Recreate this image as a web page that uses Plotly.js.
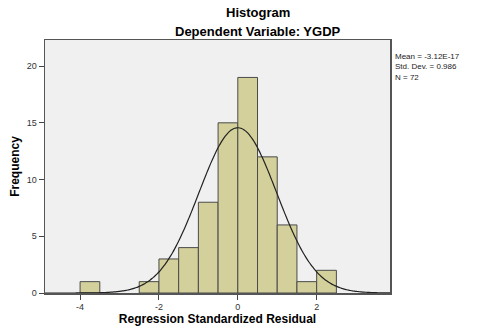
<!DOCTYPE html>
<html>
<head>
<meta charset="utf-8">
<script src="https://cdn.plot.ly/plotly-3.0.1.min.js"></script>
<style>html,body{margin:0;padding:0;background:#fff;}#chart{width:480px;height:330px;}</style>
</head>
<body>
<div id="chart"></div>
<script>
// Histogram bins (left edges) and counts
const binStart = [-4.0, -2.5, -2.0, -1.5, -1.0, -0.5, 0.0, 0.5, 1.0, 1.5, 2.0];
const counts   = [1, 1, 3, 4, 8, 15, 19, 12, 6, 1, 2];
const binWidth = 0.5;
// Summary statistics shown in the chart
const statMean = -3.12e-17;
const statSD = 0.986;
const statN = 72;
const xTicks = [-4, -2, 0, 2];
const yTicks = [0, 5, 10, 15, 20];

const xRange = [-4.89, 3.86];
const centers = binStart.map(b => b + binWidth / 2);

// Fitted normal curve from the displayed mean, SD and N
const cx = [], cy = [];
const steps = 200;
for (let i = 0; i <= steps; i++) {
  const x = xRange[0] + (xRange[1] - xRange[0]) * i / steps;
  const z = (x - statMean) / statSD;
  cx.push(x);
  cy.push(statN * binWidth * Math.exp(-0.5 * z * z) / (statSD * Math.sqrt(2 * Math.PI)));
}

const traces = [
  {type: 'bar', x: centers, y: counts, width: binWidth,
   marker: {color: '#d3d09b', line: {color: '#4a4a4a', width: 1}},
   hoverinfo: 'skip'},
  {type: 'scatter', mode: 'lines', x: cx, y: cy,
   line: {color: '#222222', width: 1.2, shape: 'spline'}, hoverinfo: 'skip'}
];

const layout = {
  width: 480, height: 330,
  margin: {l: 45, r: 90, t: 40, b: 37},
  paper_bgcolor: '#ffffff',
  plot_bgcolor: '#f0f0f0',
  showlegend: false,
  font: {family: 'Liberation Sans, Arial, sans-serif', color: '#000'},
  xaxis: {
    range: xRange, tickvals: xTicks, ticktext: xTicks.map(String),
    ticks: 'outside', ticklen: 5, tickcolor: '#444', tickwidth: 1,
    tickfont: {size: 9, color: '#333'},
    showgrid: false, zeroline: false,
    showline: true, linecolor: '#555', linewidth: 1.5, mirror: true,
    title: {text: '<b>Regression Standardized Residual</b>', font: {size: 12}, standoff: 2}
  },
  yaxis: {
    range: [0, 22.3], tickvals: yTicks, ticktext: yTicks.map(String),
    ticks: 'outside', ticklen: 5, tickcolor: '#444', tickwidth: 1,
    tickfont: {size: 9, color: '#333'},
    showgrid: false, zeroline: false,
    showline: true, linecolor: '#555', linewidth: 1.5, mirror: true,
    title: {text: '<b>Frequency</b>', font: {size: 12}, standoff: 4}
  },
  annotations: [
    {text: '<b>Histogram</b>', xref: 'paper', yref: 'paper', x: 0.617, y: 1, yshift: 28,
     showarrow: false, font: {size: 13}, xanchor: 'center', yanchor: 'middle'},
    {text: '<b>Dependent Variable: YGDP</b>', xref: 'paper', yref: 'paper', x: 0.617, y: 1, yshift: 9,
     showarrow: false, font: {size: 13}, xanchor: 'center', yanchor: 'middle'},
    {text: 'Mean = ' + statMean.toExponential(2).toUpperCase() +
           '<br>Std. Dev. = ' + statSD.toFixed(3) + '<br>N = ' + statN,
     xref: 'paper', yref: 'paper', x: 1, xshift: 3, y: 1, yshift: -10,
     showarrow: false, align: 'left', xanchor: 'left', yanchor: 'top',
     font: {size: 8, color: '#222'}}
  ]
};

Plotly.newPlot('chart', traces, layout, {displayModeBar: false, staticPlot: true});
</script>
</body>
</html>
